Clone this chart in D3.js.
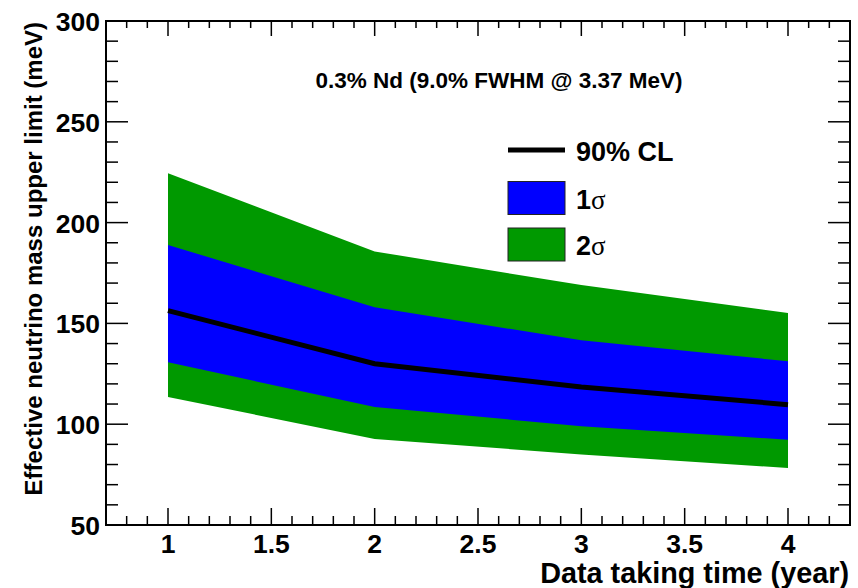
<!DOCTYPE html>
<html>
<head>
<meta charset="utf-8">
<script src="https://cdn.jsdelivr.net/npm/d3@7"></script>
<style>
  html, body { margin: 0; padding: 0; background: #fff; }
  svg { display: block; }
  text { font-family: "Liberation Sans", Arial, Helvetica, sans-serif; font-weight: bold; fill: #000; }
</style>
</head>
<body>
<svg id="chart" width="858" height="588"></svg>
<script>
// Exposure (years of data taking)
const years = [1, 2, 3, 4];
// 90% CL median sensitivity (meV)
const cl90 = [156.3, 130.0, 118.5, 109.7];
// 1-sigma band edges (meV)
const sigma1Lo = [130.7, 108.5, 99.0, 92.3];
const sigma1Hi = [188.9, 158.0, 141.6, 131.2];
// 2-sigma band edges (meV)
const sigma2Lo = [113.5, 92.7, 85.0, 78.3];
const sigma2Hi = [224.5, 185.7, 169.0, 155.2];

const xTicks = [1, 1.5, 2, 2.5, 3, 3.5, 4];
const yTicks = [50, 100, 150, 200, 250, 300];

const legendItems = [
  { kind: "line", label: "90% CL" },
  { kind: "box", label: "1", sym: "σ", color: "#0000ff" },
  { kind: "box", label: "2", sym: "σ", color: "#009900" }
];
const header = "0.3% Nd (9.0% FWHM @ 3.37 MeV)";

const W = 858, H = 588;
const margin = { left: 106, top: 21, right: 8, bottom: 63 };
const svg = d3.select("#chart");

const x = d3.scaleLinear().domain([0.7, 4.3]).range([margin.left, W - margin.right]);
const y = d3.scaleLinear().domain([50, 300]).range([H - margin.bottom, margin.top]);

const rows = years.map((t, i) => ({
  t, c: cl90[i], s1l: sigma1Lo[i], s1h: sigma1Hi[i], s2l: sigma2Lo[i], s2h: sigma2Hi[i]
}));

// bands
svg.append("path").datum(rows)
  .attr("fill", "#009900")
  .attr("d", d3.area().x(d => x(d.t)).y0(d => y(d.s2l)).y1(d => y(d.s2h)));
svg.append("path").datum(rows)
  .attr("fill", "#0000ff")
  .attr("d", d3.area().x(d => x(d.t)).y0(d => y(d.s1l)).y1(d => y(d.s1h)));
// central 90% CL curve
svg.append("path").datum(rows)
  .attr("fill", "none").attr("stroke", "#000").attr("stroke-width", 5)
  .attr("d", d3.line().x(d => x(d.t)).y(d => y(d.c)));

// axes with ROOT-style tick marks on all four sides
const x0 = margin.left, x1 = W - margin.right, yB = H - margin.bottom, yT = margin.top;
const axes = svg.append("g").attr("stroke", "#000").attr("fill", "none");

const xMinor = d3.range(7, 44).map(v => v / 10);
xMinor.forEach(v => {
  const major = Math.abs(v * 2 - Math.round(v * 2)) < 1e-6 && v >= 1 && v <= 4;
  const lb = major ? 17 : 9, lt = major ? 15 : 7;
  axes.append("line").attr("x1", x(v)).attr("x2", x(v)).attr("y1", yB).attr("y2", yB - lb).attr("stroke-width", 1.5);
  axes.append("line").attr("x1", x(v)).attr("x2", x(v)).attr("y1", yT).attr("y2", yT + lt).attr("stroke-width", 1.5);
});
d3.range(50, 301, 10).forEach(v => {
  const major = v % 50 === 0;
  const l = major ? 22 : 12;
  axes.append("line").attr("x1", x0).attr("x2", x0 + l).attr("y1", y(v)).attr("y2", y(v)).attr("stroke-width", 1.5);
  axes.append("line").attr("x1", x1).attr("x2", x1 - l).attr("y1", y(v)).attr("y2", y(v)).attr("stroke-width", 1.5);
});
axes.append("rect").attr("x", x0).attr("y", yT).attr("width", x1 - x0).attr("height", yB - yT).attr("stroke-width", 2);

// tick labels
svg.append("g").selectAll("text").data(xTicks).join("text")
  .attr("x", d => x(d)).attr("y", yB + 28)
  .attr("text-anchor", "middle").attr("font-size", 26.5)
  .text(d => d3.format("")(d));
svg.append("g").selectAll("text").data(yTicks).join("text")
  .attr("x", x0 - 6).attr("y", d => y(d) + 10)
  .attr("text-anchor", "end").attr("font-size", 26.5)
  .text(d => d);

// axis titles
svg.append("text").attr("x", x1 - 1).attr("y", 583)
  .attr("text-anchor", "end").attr("font-size", 28.8)
  .text("Data taking time (year)");
svg.append("text").attr("transform", `translate(42,${yT + 1}) rotate(-90)`)
  .attr("text-anchor", "end").attr("font-size", 24)
  .text("Effective neutrino mass upper limit (meV)");

// header
svg.append("text").attr("x", 499).attr("y", 88)
  .attr("text-anchor", "middle").attr("font-size", 22.5)
  .text(header);

// legend
const lg = svg.append("g");
const lx = 508, lw = 57;
const rowY = [150, 198, 244.5];
legendItems.forEach((it, i) => {
  const cy = rowY[i];
  if (it.kind === "line") {
    lg.append("line").attr("x1", lx).attr("x2", lx + lw).attr("y1", cy).attr("y2", cy)
      .attr("stroke", "#000").attr("stroke-width", 5);
  } else {
    lg.append("rect").attr("x", lx).attr("y", cy - 16.5).attr("width", lw).attr("height", 33)
      .attr("fill", it.color).attr("stroke", "#222").attr("stroke-width", 1);
  }
  const t = lg.append("text").attr("x", 576).attr("y", cy + 10.5).attr("font-size", 27);
  t.append("tspan").text(it.label);
  if (it.sym) {
    t.append("tspan").attr("font-family", "'Liberation Serif', 'DejaVu Serif', serif")
      .attr("font-weight", "normal").text(it.sym);
  }
});
</script>
</body>
</html>
